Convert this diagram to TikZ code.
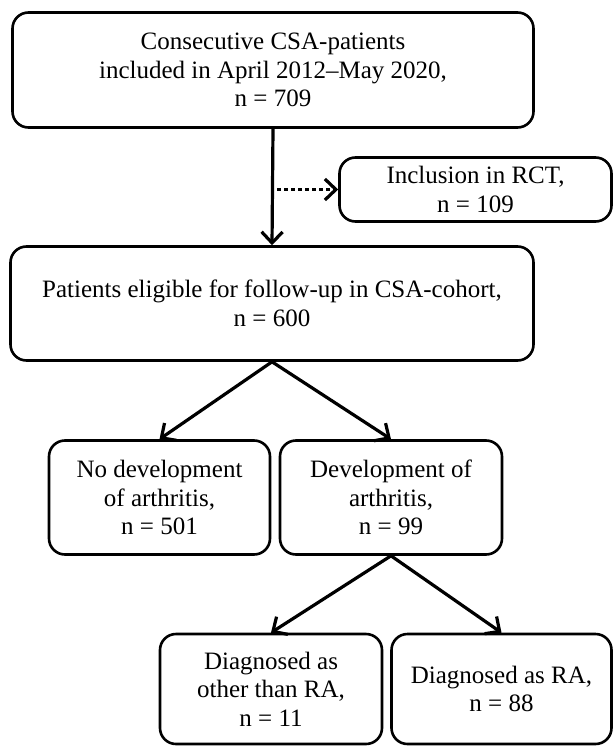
\documentclass[tikz,border=0pt]{standalone}
\usepackage{fontspec}
\setmainfont{Liberation Serif}
\usetikzlibrary{arrows.meta}

\begin{document}
\begin{tikzpicture}[x=1pt, y=-1pt,
	box/.style={draw, line width=2.6pt, rounded corners=16pt, align=center, inner sep=0pt,
		font=\fontsize{25}{28.5}\selectfont},
	flow/.style={line width=3.2pt, -{Straight Barb[length=11pt, width=21pt, line width=3.2pt]}}]
	
	\useasboundingbox (0,0) rectangle (614,746);
	
	\node [box, minimum width=521pt, minimum height=115pt] (start) at (273,70)
	{Consecutive CSA-patients\\ included in April 2012--May 2020,\\ n = 709};
	\node [box, minimum width=272pt, minimum height=64pt] (rct) at (475.5,189.5)
	{Inclusion in RCT,\\ n = 109};
	\node [box, minimum width=523pt, minimum height=114pt] (elig) at (272,303.5)
	{Patients eligible for follow-up in CSA-cohort,\\ n = 600};
	
	\node [box, minimum width=221pt, minimum height=114pt] (nodev) at (159.5,497.5)
	{No development\\ of arthritis,\\ n = 501};
	\node [box, minimum width=222pt, minimum height=114pt] (dev) at (391,497.5)
	{Development of\\ arthritis,\\ n = 99};
	
	\node [box, minimum width=222pt, minimum height=110pt] (other) at (271,689)
	{Diagnosed as\\ other than RA,\\ n = 11};
	\node [box, minimum width=220pt, minimum height=110pt] (ra) at (501.5,689)
	{Diagnosed as RA,\\ n = 88};
	
	\draw [flow] (start.south) -- (elig.north);
	\draw [flow, dash pattern=on 4pt off 3pt, shorten <=4pt] (start.south |- rct.west) -- (rct.west);
	
	\draw [flow] (elig.south) -- (nodev.north);
	\draw [flow] (elig.south) -- (dev.north);
	
	\draw [flow] (dev.south) -- (other.north);
	\draw [flow] (dev.south) -- (ra.north);
	
\end{tikzpicture}
\end{document}
